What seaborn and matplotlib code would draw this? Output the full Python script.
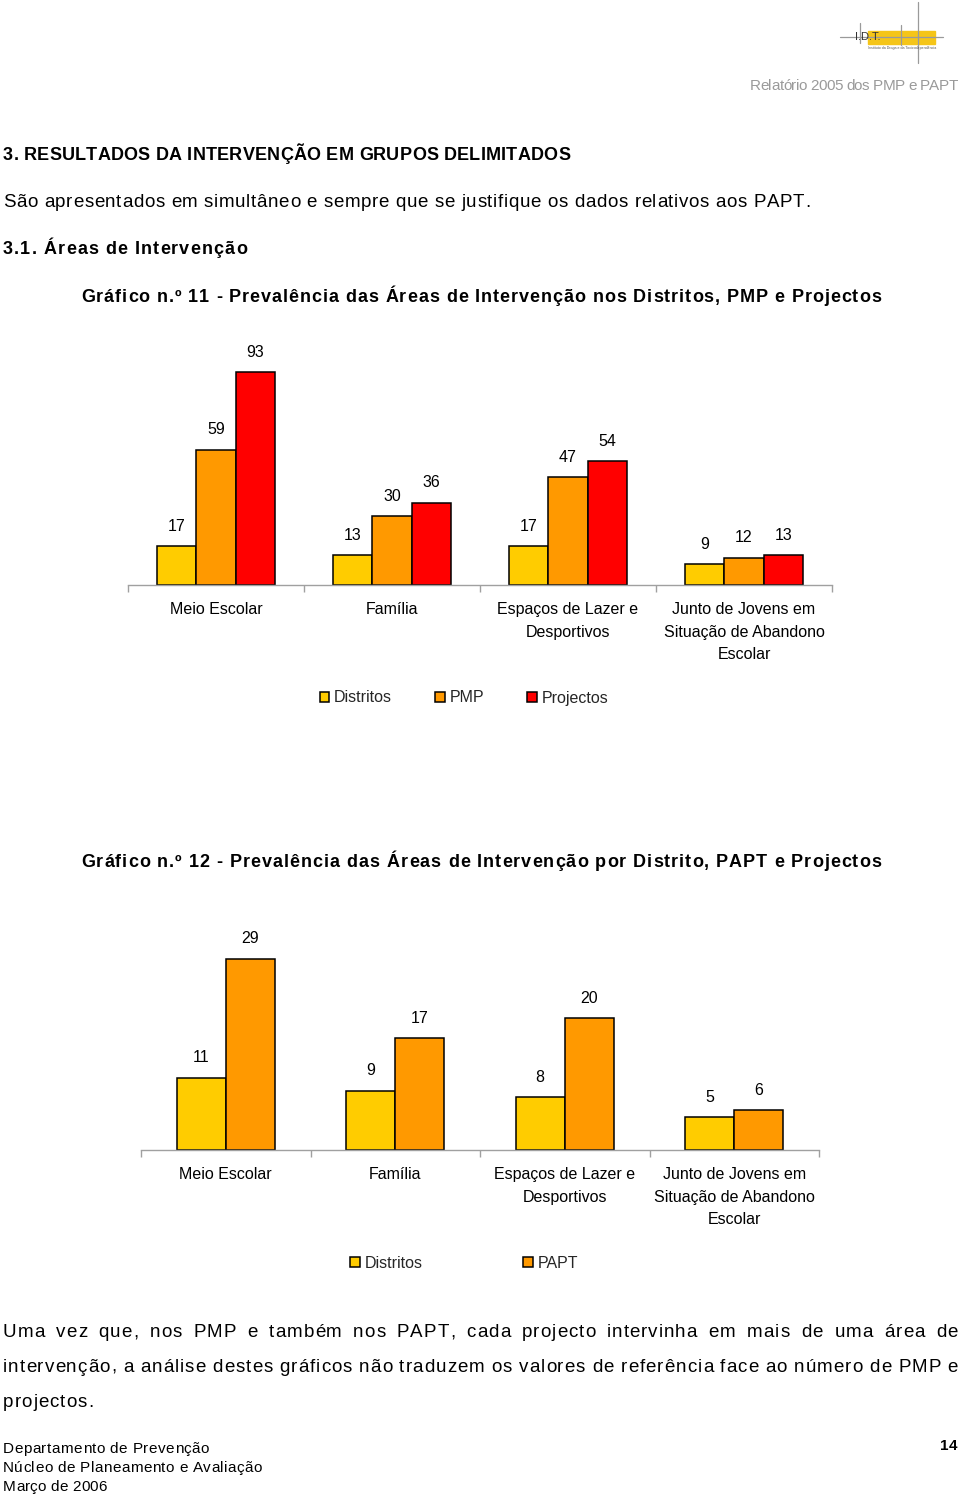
import numpy as np
import pandas as pd
import matplotlib
matplotlib.use('Agg')
import matplotlib.pyplot as plt
import seaborn as sns
from matplotlib.font_manager import FontProperties, findfont, get_font
from matplotlib.patches import Rectangle
from matplotlib.lines import Line2D

# dados do gráfico 11
areas = ["Meio Escolar", "Família", "Espaços de Lazer e\nDesportivos",
         "Junto de Jovens em\nSituação de Abandono\nEscolar"]
distritos_11 = [17, 13, 17, 9]
pmp_11 = [59, 30, 47, 12]
projectos_11 = [93, 36, 54, 13]

# dados do gráfico 12
distritos_12 = [11, 9, 8, 5]
papt_12 = [29, 17, 20, 6]

AMARELO, LARANJA, VERMELHO = '#FFCC00', '#FF9900', '#FF0000'

sns.set_theme(style='white')
plt.rcParams['font.family'] = ['Liberation Sans', 'DejaVu Sans']

W, H = 960, 1495
fig = plt.figure(figsize=(W / 100, H / 100), dpi=100)


def advances(s, prop):
    f = get_font(findfont(prop))
    f.set_size(prop.get_size_in_points(), 100)
    out = []
    for ch in s:
        g = f.load_char(ord(ch))
        out.append(g.linearHoriAdvance / 65536)
    return out


def put(s, x0, y, size, x1=None, track=0.0, weight='normal', color='black', ha='left'):
    """texto com espaçamento entre letras (como no relatório)"""
    prop = FontProperties(family='Liberation Sans', size=size, weight=weight)
    adv = advances(s, prop)
    if x1 is not None:
        track = (x1 - x0 - sum(adv)) / max(len(s) - 1, 1)
    total = sum(adv) + track * (len(s) - 1)
    x = x0 - total if ha == 'right' else x0
    for ch, a in zip(s, adv):
        if not ch.isspace():
            fig.text(x / W, 1 - y / H, ch, fontproperties=prop, color=color,
                     va='baseline', ha='left')
        x += a + track
    return total


def justify(line, y, x0, x1, size, track):
    prop = FontProperties(family='Liberation Sans', size=size)
    words = line.split()
    widths = [sum(advances(w, prop)) + track * (len(w) - 1) for w in words]
    gap = (x1 - x0 - sum(widths)) / (len(words) - 1)
    x = x0
    for w, wd in zip(words, widths):
        put(w, x, y, size, track=track)
        x += wd + gap


# cabeçalho / logótipo
for (xa, ya, xb, yb) in [(918, 2, 918, 63), (860, 23, 860, 43), (901, 25, 901, 45), (840, 37, 943, 37)]:
    fig.add_artist(Line2D([xa / W, xb / W], [1 - ya / H, 1 - yb / H], color='#9a9a9a', lw=0.9))
fig.add_artist(Rectangle((868 / W, 1 - 44 / H), 67 / W, 13 / H, color='#F5C518', zorder=0))
fig.text(855 / W, 1 - 40 / H, 'I.D.T.', fontsize=8, color='#333333')
fig.text(868 / W, 1 - 49 / H, 'Instituto da Droga e da Toxicodependência', fontsize=2.6, color='#555555')
put('Relatório 2005 dos PMP e PAPT', 750, 90, 11, x1=958, color='#9a9a9a')

put('3. RESULTADOS DA INTERVENÇÃO EM GRUPOS DELIMITADOS', 3, 160, 13, x1=570, weight='bold')
put('São apresentados em simultâneo e sempre que se justifique os dados relativos aos PAPT.',
    3, 207, 13.5, x1=810)
put('3.1. Áreas de Intervenção', 3, 254, 13, x1=247, weight='bold')
put('Gráfico n.º 11 - Prevalência das Áreas de Intervenção nos Distritos, PMP e Projectos',
    81, 302, 13, x1=881, weight='bold')
put('Gráfico n.º 12 - Prevalência das Áreas de Intervenção por Distrito, PAPT e Projectos',
    81, 867, 13, x1=881, weight='bold')

justify('Uma vez que, nos PMP e também nos PAPT, cada projecto intervinha em mais de uma área de',
        1337, 3, 958, 13.5, 1.0)
justify('intervenção, a análise destes gráficos não traduzem os valores de referência face ao número de PMP e',
        1372, 3, 958, 13.5, 1.0)
put('projectos.', 3, 1407, 13.5, track=1.0)

put('Departamento de Prevenção', 3, 1453, 11, x1=209)
put('Núcleo de Planeamento e Avaliação', 3, 1472, 11, x1=262)
put('Março de 2006', 3, 1491, 11, x1=107)
put('14', 957, 1450, 11, weight='bold', ha='right')


def grafico(ax, df, cores, largura, ymax, leg_y, colsp):
    sns.barplot(data=df, x='area', y='valor', hue='serie', palette=cores, width=largura,
                gap=0, edgecolor='black', linewidth=1.1, saturation=1, ax=ax)
    for cont in ax.containers:
        ax.bar_label(cont, padding=9, fontsize=11.5, color='black')
    ax.set_xlim(-0.5, 3.5)
    ax.set_ylim(0, ymax)
    ax.set_yticks([])
    ax.set_xlabel('')
    ax.set_ylabel('')
    ax.set_xticks(np.arange(-0.5, 4, 1), minor=True)
    ax.tick_params(axis='x', which='major', length=0, pad=12.5, labelsize=11.5, labelcolor='black')
    ax.tick_params(axis='x', which='minor', length=5, width=1, color='#a0a0a0', direction='out',
                   bottom=True)
    for lab in ax.get_xticklabels():
        lab.set_linespacing(1.6)
    for s in ['left', 'right', 'top']:
        ax.spines[s].set_visible(False)
    ax.spines['bottom'].set_color('#a0a0a0')
    ax.spines['bottom'].set_linewidth(1)
    ax.patch.set_alpha(0)
    handles, labels = ax.get_legend_handles_labels()
    ax.legend(handles, labels, loc='center', bbox_to_anchor=(464 / W, 1 - leg_y / H),
              bbox_transform=fig.transFigure, ncol=len(labels), frameon=False, fontsize=11.5,
              handlelength=0.6, handleheight=0.6, handletextpad=0.3, columnspacing=colsp)


df11 = pd.DataFrame({
    'area': areas * 3,
    'valor': distritos_11 + pmp_11 + projectos_11,
    'serie': ['Distritos'] * 4 + ['PMP'] * 4 + ['Projectos'] * 4,
})
df12 = pd.DataFrame({
    'area': areas * 2,
    'valor': distritos_12 + papt_12,
    'serie': ['Distritos'] * 4 + ['PAPT'] * 4,
})

ax1 = fig.add_axes([128 / W, 1 - 585 / H, 704 / W, 229 / H])
grafico(ax1, df11, [AMARELO, LARANJA, VERMELHO], 0.67, 100, 698, 2.7)

ax2 = fig.add_axes([141 / W, 1 - 1150 / H, 678 / W, 197.6 / H])
grafico(ax2, df12, [AMARELO, LARANJA], 0.58, 30, 1263, 6.3)

fig.savefig('out.png', dpi=100)
